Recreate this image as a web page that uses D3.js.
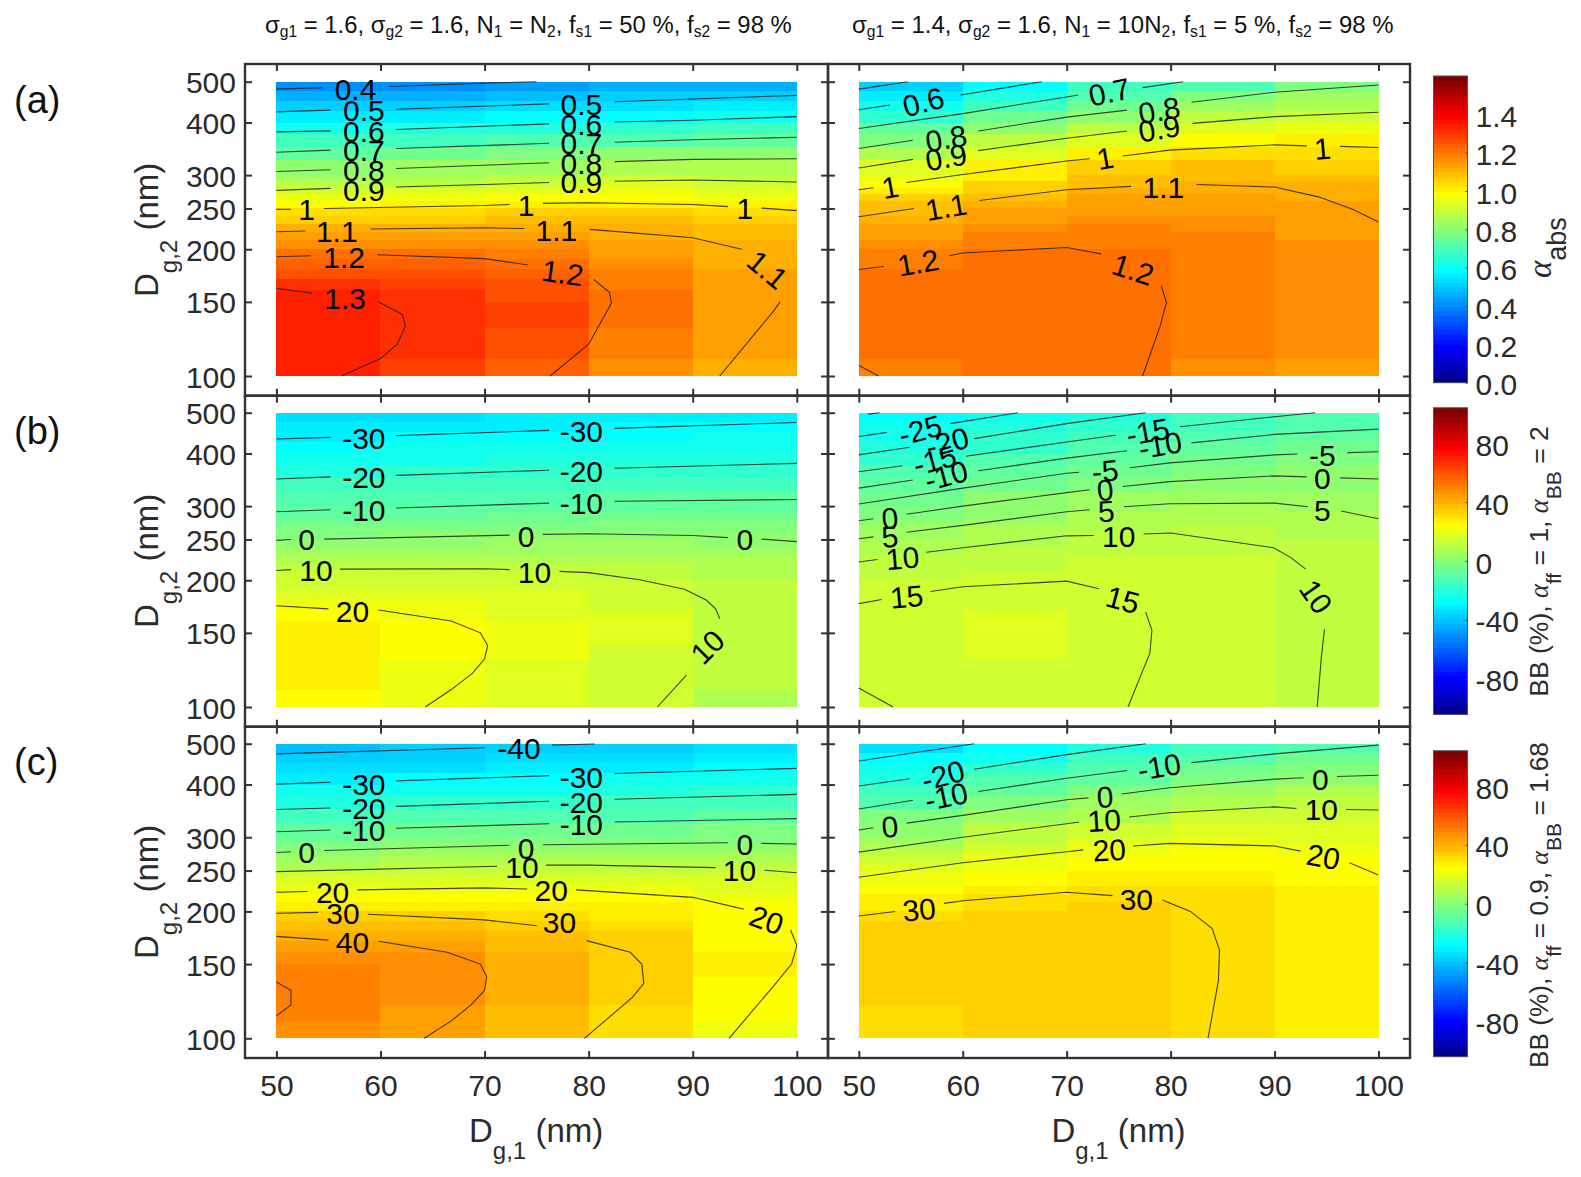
<!DOCTYPE html>
<html><head><meta charset="utf-8">
<style>html,body{margin:0;padding:0;background:#fff}svg{display:block}</style>
<script src="https://cdn.jsdelivr.net/npm/d3@7/dist/d3.min.js"></script>
</head><body><svg id="c" width="1581" height="1177"></svg>
<script>
// ---------- DATA ----------
const xEdges=[50,60,70,80,90,100];
const xTicks=[50,60,70,80,90,100];
const yTicks=[100,150,200,250,300,400,500];
const rowEdges=[100,110,120,130,140,150,160,170,180,190,200,210,220,230,240,250,260,270,280,290,300,325,350,375,400,425,450,475,500];
const panelLetters=["(a)","(b)","(c)"];
const titleLeft=[["σ"],["g1",1],[" = 1.6, σ"],["g2",1],[" = 1.6, N"],["1",1],[" = N"],["2",1],[", f"],["s1",1],[" = 50 %, f"],["s2",1],[" = 98 %"]];
const titleRight=[["σ"],["g1",1],[" = 1.4, σ"],["g2",1],[" = 1.6, N"],["1",1],[" = 10N"],["2",1],[", f"],["s1",1],[" = 5 %, f"],["s2",1],[" = 98 %"]];

// Heat values: one array per column (D_g,1 = 50..90), one value per row of rowEdges
const heatA1=[
[1.33,1.33,1.33,1.335,1.335,1.33,1.305,1.27,1.24,1.21,1.17,1.135,1.10,1.065,1.03,.995,.96,.92,.885,.85,.82,.745,.675,.615,.555,.50,.455,.41],
[1.29,1.30,1.315,1.32,1.32,1.315,1.295,1.26,1.235,1.21,1.17,1.14,1.105,1.07,1.035,1.0,.965,.93,.895,.86,.83,.755,.695,.63,.57,.51,.465,.42],
[1.235,1.25,1.275,1.28,1.28,1.275,1.25,1.235,1.22,1.20,1.165,1.14,1.11,1.08,1.05,1.015,.98,.95,.915,.88,.85,.775,.71,.645,.59,.53,.48,.44],
[1.17,1.18,1.20,1.205,1.205,1.205,1.20,1.195,1.17,1.15,1.13,1.115,1.10,1.075,1.05,1.025,.995,.96,.93,.9,.865,.80,.725,.665,.60,.54,.50,.45],
[1.11,1.125,1.13,1.14,1.14,1.135,1.135,1.13,1.12,1.11,1.105,1.095,1.085,1.06,1.03,1.0,.97,.945,.92,.895,.87,.80,.735,.675,.61,.55,.51,.46]];
const heatA2=[
[1.195,1.205,1.21,1.21,1.21,1.21,1.21,1.205,1.2,1.175,1.155,1.14,1.125,1.11,1.095,1.075,1.05,1.02,.99,.965,.94,.87,.79,.73,.67,.61,.56,.51],
[1.215,1.215,1.22,1.22,1.22,1.22,1.22,1.215,1.21,1.205,1.195,1.18,1.16,1.15,1.14,1.12,1.095,1.07,1.05,1.025,1.00,.94,.875,.81,.75,.69,.64,.585],
[1.21,1.215,1.22,1.22,1.22,1.22,1.22,1.215,1.21,1.205,1.20,1.19,1.18,1.165,1.15,1.14,1.125,1.11,1.095,1.075,1.05,1.00,.935,.875,.825,.77,.72,.68],
[1.165,1.175,1.185,1.19,1.195,1.195,1.195,1.195,1.19,1.185,1.18,1.175,1.165,1.155,1.14,1.135,1.125,1.115,1.105,1.095,1.08,1.04,.99,.94,.885,.83,.78,.72],
[1.145,1.155,1.16,1.165,1.17,1.17,1.17,1.17,1.165,1.16,1.155,1.15,1.145,1.14,1.13,1.125,1.12,1.11,1.10,1.085,1.07,1.035,1.0,.965,.92,.87,.835,.795]];
const heatB1=[
[23,26,27,27,27,26,24,21,18.5,16,13,10.5,7.5,5,2,-.5,-3,-5.5,-7.5,-9.5,-11.5,-16,-20,-24,-27,-29.5,-32,-34],
[21,21.5,22,23,23.5,23.5,22,20,18,15.5,13,10.5,8,5.5,2.5,0,-2.5,-5,-7,-9,-11,-15.5,-19.5,-23,-26,-28.5,-31,-33],
[17.5,18,19,20,20.3,20,18.5,17.5,16.5,15,13,11,8.5,6,3.5,1,-1.5,-4,-6,-8,-10.5,-15,-19,-22,-25,-27.5,-30,-32],
[14,15,15.5,16,16.5,16.5,16.5,16,15,13.5,12,10,8,6,4,1.5,-1,-3,-5,-7,-9.5,-14,-18,-21.5,-24,-27,-29,-31],
[9,10,11,11.5,12,12,12,11.5,11,10,9.5,8.5,7,5,2.5,.5,-1,-3,-5,-7,-9,-13.5,-17.5,-21,-24,-26,-28.5,-30]];
const heatB2=[
[14.5,15,15.5,15.8,15.9,15.9,15.5,15.2,14.5,13.5,12.7,11.5,10,8.5,7,5.2,3.5,1.5,-.5,-2.5,-4.5,-9,-13,-17,-20.5,-23,-26,-28.5],
[15.8,15.9,16,16.5,16.8,16.8,16.5,16,15.8,15.2,14,12.7,11.5,10.5,9.5,8,6.5,4.8,3,1.5,0,-4.5,-8.5,-12.5,-16.5,-19,-22,-25],
[15.6,15.8,15.9,16,16.1,16.1,16,16,15.8,15.4,14.9,14,13,12,11.2,10.2,9.3,8.2,7,5.4,3.8,-.4,-3.5,-7.5,-11.5,-15,-17.5,-20.5],
[13.8,14,14.3,14.5,14.6,14.6,14.6,14.6,14.5,14.2,14,13.7,13.3,12.6,11.8,10.9,10,8.9,7.7,6.6,5.5,2.5,-1,-4.3,-8,-10.5,-13.5,-16],
[11,11.2,11.5,11.7,11.8,12,12,12,12,11.8,11.7,11.4,11,10.5,10,9.2,8.3,7.4,6.5,5.8,5.2,2.8,.4,-2.7,-5.3,-8,-10.7,-13]];
const heatC1=[
[47,49,51,51,49.5,47,44,41,38,33,29,25,21,17,13,9.5,6,2.3,-1.5,-5,-8,-14,-20,-25,-30,-33,-36.5,-40],
[43,44,45.5,46.5,47,45.5,43,40,37,33.5,29,25,21.5,17.7,14,10.7,7.5,4,.5,-2.8,-6,-12.5,-19,-24,-29,-33,-36,-39],
[36,37,40,41,41,40,37.5,36,33.5,31.5,29,25.5,22,18,14.5,11,8,5,2,-1.5,-5,-11.5,-17,-23,-27.5,-31,-35,-38],
[30,31,32.5,33.5,34,34,33.5,33,31,28.5,26,23.5,21,18.3,15.5,12.2,9,5.7,2.5,-.5,-3.5,-10,-16,-21.5,-26,-30,-33,-37],
[20,23,24,25.5,26,26,25.5,25,24.5,24,23,21.3,19,16.3,13.5,10.7,8,5,2,-.5,-3,-8,-14,-19,-24,-28,-32,-35]];
const heatC2=[
[31.5,32,33,33.5,33.8,33.8,33.5,33,32.5,31,29,27,25,22.5,20,18,15.5,12.2,9,6,3,-3,-10,-15.5,-20.5,-24,-29,-33],
[33,33.5,34,34,34.5,34.5,34.5,34,33.5,33,32,29.5,27,25,23,21.8,20.3,18,15.5,12.7,10,4,-1.5,-7,-11.5,-17.5,-23,-27],
[33,33.5,34,34,34.3,34.3,34,34,33.5,33,32.5,31.5,30.5,28.8,27,25,23,21.2,19.5,17.2,15,9.5,4,-1.5,-7,-12,-16,-20.5],
[31,31.5,31.8,32,32,32,32,32,32,31.5,31,30.2,29.3,28.2,27,25.7,24.5,23.2,22,20,18,13,8.5,3.5,-1.5,-6,-10,-14.5],
[26.5,27,27.5,28,28,28,28,28,28,28,27.5,27,26.5,25.5,24.5,23.7,23,22,21,19.2,17.5,14,10.5,6.5,2,-2,-6,-10]];

// Contour lines: each segment is [Dg1 values, Dg2 values]; gaps are where the labels sit
const linesA1=[
[[50,54.4],[480,484]],[[60.8,70,75],[487,496,500]],
[[50,55.2],[424,428]],[[61.5,76.2],[430,443]],[[82.5,90,100],[448,455,464]],
[[50,55.2],[380,382]],[[61.5,76.2],[385,397]],[[82.5,90,100],[401,405,413]],
[[50,55.2],[340,344]],[[61.5,76.2],[347,357]],[[82.5,90,100],[359,364,369]],
[[50,55.2],[306,309]],[[61.5,76.2],[311,321]],[[82.5,90,100],[323,327,328]],
[[50,55.2],[276,279]],[[61.5,76.2],[281,288]],[[82.5,90,100],[290,292,289]],
[[50,51.4],[248.7,249]],[[54.6,70,72.4],[250,254,255.5]],[[75.6,80,90,93.4],[257,258,255.5,252.5]],[[96.6,100],[250.5,247]],
[[50,52.8],[220,221]],[[59.1,70,73.8],[223.5,225,224]],[[80.1,90,94.7],[223,213,200]],
[[50,53.3],[192,193]],[[59.7,70,74.2],[194,190,183.5]],[[80.5,82,82.2,81.3,80,76.3],[169.5,158,149,136,119,100]],
[[50,53.4],[161.5,157.5]],[[59.8,62.1,62.4,61.6,60,56.3],[150,140,131.5,119,110,100.2]],
[[98.4,97.7,92.6],[150,142,100]]];
const labelsA1=[
["0.4",57.6,480,0],["0.5",58.4,428,0],["0.6",58.4,382,0],["0.7",58.4,344,0],["0.8",58.4,309,0],["0.9",58.4,277,0],
["0.5",79.3,442,0],["0.6",79.3,397,0],["0.7",79.3,357,0],["0.8",79.3,321,0],["0.9",79.3,288,0],
["1",52.9,249,0],["1",74,254,0],["1",95,250,0],["1.1",55.8,221,0],["1.1",76.9,222,0],
["1.2",56.5,192,0],["1.2",77.5,176,8],["1.3",56.6,153,0],["1.1",97.2,179,40]];
const linesA2=[
[[50,54.7],[480,500]],
[[50,53],[429,440]],[[59.8,67.6],[465,500]],
[[50,60,70,71.1],[387,420,460,465]],[[77.3,81.2],[484,500]],
[[50,55.2],[347,363]],[[61.5,70,75.8],[382,412,428]],[[82,90,100],[447,472,491]],
[[50,55.2],[312,327]],[[61.5,70,75.8],[343,367,382]],[[82.1,90,100],[398,413,423]],
[[50,51.4],[277,280]],[[54.6,60,70,72.2],[288,301,324,328]],[[75.4,79.9,90,93.1],[333,344,354,352]],[[96.3,100],[351,349]],
[[50,55.3],[239,250]],[[61.6,70,76.2],[261,277,282]],[[82.5,90,94.3,97.5,100],[285,281,266,249,232]],
[[50,52.4],[179,182]],[[58.7,60,70,73.3],[193,196,202,195]],[[79.1,79.6,79,77.3],[164,149.5,131.5,100]],
[[50,51.9],[106,100]]];
const labelsA2=[
["0.6",56.2,448,-15],["0.7",74.1,473,-12],["0.8",58.4,367,-10],["0.9",58.4,331,-10],["0.8",78.9,428,-10],["0.9",78.9,387,-10],
["1",53,281,-10],["1",73.7,329,-10],["1",94.6,347,-5],["1.1",58.4,252,-10],["1.1",79.3,281,0],["1.2",55.7,186,-10],["1.2",76.4,179,18]];
const linesB1=[
[[50,55.2],[433,437]],[[61.5,76.2],[441,454]],[[82.5,100],[459,474]],
[[50,55.2],[348,352]],[[61.5,76.2],[355,365]],[[82.5,100],[369,379]],
[[50,55.2],[291,294]],[[61.5,76.2],[297,305]],[[82.5,100],[308,311]],
[[50,51.4],[248.7,250]],[[54.6,72.4],[250.5,256]],[[75.6,80,90,93.4],[257,258,255.5,252.5]],[[96.6,100],[250.5,247]],
[[50,51.4],[211,212]],[[56.1,70,72.4],[212.5,213,212]],[[77.2,80,84.9,89.2,91.3,92.2,92.6],[210,208.5,200.5,190.5,179.5,171,162]],
[[89.4,86.6],[119,100]],
[[50,55],[174,171]],[[59.8,66.8,69.6,70.3,70,68.8,66.8,64.3],[170,160,150,140,130,120,110,100]]];
const labelsB1=[
["-30",58.4,434,0],["-30",79.3,453,0],["-20",58.4,352,0],["-20",79.3,363,0],["-10",58.4,294,0],["-10",79.3,304,0],
["0",52.9,250,0],["0",74,254,0],["0",95,250,0],["10",53.8,211,0],["10",74.8,209,0],["20",57.3,169,0],["10",91.4,139,-45]];
const linesB2=[
[[50.9,52],[496,500]],
[[50,52.7],[439,449]],[[58.8,65.3],[471,500]],
[[50,54.9],[397,414]],[[61.1,70,77.6],[434,471,500]],
[[50,54.2],[362,374]],[[60.3,70,74.7],[394,426,442]],[[80.9,90,93.9],[463,489,500]],
[[50,55.2],[331,346]],[[61.5,70,75.8],[364,390,406]],[[82,90,100],[424,444,457]],
[[50,60,70,71.2],[303.5,331,359,361]],[[76.1,79.9,90,92.2],[370,380,397,399]],[[97,100],[402,404]],
[[50,51.4],[277,280]],[[54.6,60,70,72.2],[287,300,323,328]],[[75.4,79.9,90,93.1],[334,343,354,352]],[[96.3,100],[350,348]],
[[50,51.4],[251,253.5]],[[54.6,60,70,72.2],[260,270,291,294]],[[75.5,79.9,90,93.2],[299,304,305,299]],[[96.4,100],[292,280]],
[[50,51.8],[221,224]],[[56.5,60,70,72.6],[233,239,255,255.5]],[[77.4,80,89.9,91.5,93],[257.5,259,239,227,212.5]],
[[94.8,94.5,94.1],[153,131,100]],
[[50,52.2],[176,180]],[[56.9,60,70,73.1],[188,193,199,191]],[[77.6,78.2,78,77.2,75.9],[168,152,134,120,100]],
[[50,53.3],[111,100]]];
const labelsB2=[
["-25",55.9,455,-15],["-20",58.5,426,-15],["-15",57.3,386,-15],["-10",58.4,355,-15],
["0",53,281,-5],["5",53,254,-5],["10",54.2,226,-5],["15",54.6,183,-5],
["-15",77.8,451,-10],["-10",79,419,-10],["-5",73.7,364,-5],["0",73.7,328,-5],["5",73.8,292,-3],["10",75,255,0],["15",75.4,180,15],
["-5",94.6,397,0],["0",94.6,349,0],["5",94.6,294,0],["10",94,183,55]];
const linesC1=[
[[50,70],[473,489]],[[76.5,80.6],[496,499]],
[[50,55.2],[401,405]],[[61.5,76.2],[408,420]],[[82.5,100],[425,437]],
[[50,55.2],[349,352]],[[61.5,76.2],[355,365]],[[82.5,100],[369,379]],
[[50,55.2],[309,312]],[[61.5,76.2],[315,323]],[[82.5,100],[326,332]],
[[50,51.4],[276,277]],[[54.6,72.4],[279,287]],[[75.6,93.4],[288,291]],[[96.6,100],[290,289]],
[[50,71.2],[248.6,256]],[[75.9,80,92.2],[257.5,257.5,254]],[[96.9,100],[250.5,247]],
[[50,53],[222,223]],[[57.8,70,74.1],[225,227.5,226]],[[78.8,90,94.9],[225,216,202.5]],
[[50,54],[198,199]],[[58.8,70,75],[197,191,185]],[[79.8,84,85.1,85.3,84.2,79.6],[170.5,160,150,135,125,100]],
[[50,55],[174.5,171]],[[59.8,66.4,69.6,70.2,70,68.7,66.8,64.2],[170,160,150,140,130,120,110,100]],
[[50,51.4,51.4,50],[136,130,120,113]],
[[99.4,100,99.5,97.7,93.5],[181,166,150,132.5,100]]];
const labelsC1=[
["-40",73.3,487,0],["-30",58.4,401,0],["-30",79.3,417,0],["-20",58.4,351,0],["-20",79.3,364,0],["-10",58.4,311,0],["-10",79.3,322,0],
["0",52.9,276.5,0],["0",74,283,0],["0",95,289,0],["10",73.6,254,0],["10",94.5,250,0],
["20",55.4,222.5,0],["20",76.4,224,0],["30",56.4,198,0],["30",77.2,189,0],["40",57.3,169,0],["20",97.1,191,20]];
const linesC2=[
[[50,61.1],[455,500]],
[[50,54.9],[397,413]],[[61.1,70,77.6],[435,471,500]],
[[50,55.2],[350,367]],[[61.5,70,75.8],[385,414,432]],[[82,90,100],[451,473,496]],
[[50,51.4],[312,316]],[[54.6,60,70,72.1],[324,338,368,372]],[[75.3,79.9,90,92.8],[380,393,412,415]],[[96,100],[418,421]],
[[50,60,70,71.2],[276.5,300,323,326]],[[76,79.9,90,92.1],[335,343,354,351]],[[96.9,100],[349,348]],
[[50,60,70,71.6],[241,261,277,280]],[[76.4,79.9,90,92.5],[286,290,286,278]],[[97.2,100],[261,244]],
[[50,53.5],[195,200]],[[58.2,60,70,74.4],[209,212,222,218]],[[79.2,81.9,84,84.7,84.6,83.6],[213,200,182,162,137,100]]];
const labelsC2=[
["-20",58.1,421,-15],["-10",58.4,375,-12],["0",53,318,-5],["-10",78.9,441,-10],
["0",73.7,374,-3],["10",73.6,329,-3],["20",74.1,280,-3],["30",76.7,214,0],["30",55.8,202,-5],
["0",94.4,411,0],["10",94.5,349,0],["20",94.7,270,10]];

// Colour bars
const barA={lo:0,hi:1.6,ticks:[0,.2,.4,.6,.8,1,1.2,1.4]};
const barB={lo:-104,hi:104,ticks:[-80,-40,0,40,80]};

// ---------- DRAW ----------
const jet=t=>{const c=v=>Math.max(0,Math.min(1,v));
  return d3.rgb(255*c(1.5-Math.abs(4*t-3)),255*c(1.5-Math.abs(4*t-2)),255*c(1.5-Math.abs(4*t-1))).formatHex();};
const jet64=d3.range(64).map(i=>jet((i+1)/64));
const FONT='"Liberation Sans",Arial,sans-serif', INK='#2b2b2b', FRAME='#333';
const svg=d3.select('#c').attr('font-family',FONT);

const colX=[{frame:[245,828],xr:[276.4,796.8]},{frame:[828,1410],xr:[858.8,1378.5]}];
const rowY=[{frame:[64,395.7],yr:[81.7,376]},{frame:[395.7,726.7],yr:[412.7,707]},{frame:[726.7,1058],yr:[743.7,1038.3]}];

const panels=[
 [heatA1,linesA1,labelsA1,barA,0,0],[heatA2,linesA2,labelsA2,barA,0,1],
 [heatB1,linesB1,labelsB1,barB,1,0],[heatB2,linesB2,labelsB2,barB,1,1],
 [heatC1,linesC1,labelsC1,barB,2,0],[heatC2,linesC2,labelsC2,barB,2,1]];

panels.forEach(([heat,lines,labels,bar,r,c])=>{
  const {frame:fx,xr}=colX[c],{frame:fy,yr}=rowY[r];
  const x=d3.scaleLinear().domain([50,100]).range(xr);
  const y=d3.scaleLog().domain([500,100]).range(yr);
  const col=d3.scaleQuantize().domain([bar.lo,bar.hi]).range(jet64);
  const g=svg.append('g');
  heat.forEach((colVals,i)=>{
    g.append('g').attr('shape-rendering','crispEdges').selectAll('rect').data(colVals).join('rect')
     .attr('x',x(xEdges[i])).attr('width',x(xEdges[i+1])-x(xEdges[i]))
     .attr('y',(d,j)=>y(rowEdges[j+1])).attr('height',(d,j)=>y(rowEdges[j])-y(rowEdges[j+1]))
     .attr('fill',d=>col(d));
  });
  const line=d3.line().x(d=>x(d[0])).y(d=>y(d[1]));
  g.append('g').selectAll('path').data(lines).join('path')
   .attr('d',s=>line(d3.zip(s[0],s[1]))).attr('fill','none').attr('stroke','#222').attr('stroke-width',1.1).attr('stroke-opacity',.85);
  g.append('g').selectAll('text').data(labels).join('text')
   .attr('transform',d=>`translate(${x(d[1])},${y(d[2])}) rotate(${d[3]})`)
   .attr('text-anchor','middle').attr('dy','.36em').attr('font-size',30).attr('fill','#000').text(d=>d[0]);
  // frame + ticks
  const tickStyle=a=>{a.select('.domain').remove();a.selectAll('.tick line').attr('stroke',FRAME).attr('stroke-width',2);
     a.selectAll('text').attr('font-family',FONT).attr('font-size',30).attr('fill',INK);};
  const fmt=d=>String(d), none=()=>'';
  const yTop=fy[0], yBot=fy[1];
  svg.append('g').attr('transform',`translate(${fx[0]},0)`).call(d3.axisLeft(y).tickValues(yTicks).tickSize(-7).tickPadding(9).tickFormat(c===0?fmt:none)).call(tickStyle).selectAll('text').attr('dy','.37em');
  svg.append('g').attr('transform',`translate(${fx[1]},0)`).call(d3.axisRight(y).tickValues(yTicks).tickSize(-7).tickFormat(none)).call(tickStyle);
  svg.append('g').attr('transform',`translate(0,${yTop})`).call(d3.axisTop(x).tickValues(xTicks).tickSize(-7).tickFormat(none)).call(tickStyle);
  svg.append('g').attr('transform',`translate(0,${yBot})`).call(d3.axisBottom(x).tickValues(xTicks).tickSize(-7).tickPadding(17).tickFormat(r===2?fmt:none)).call(tickStyle);
  svg.append('rect').attr('x',fx[0]).attr('y',fy[0]).attr('width',fx[1]-fx[0]).attr('height',fy[1]-fy[0])
     .attr('fill','none').attr('stroke',FRAME).attr('stroke-width',2.4);
});

// sub/superscript helper
function rich(sel,parts,size,subSize,subDy){
  parts.forEach(p=>{
    const t=sel.append('tspan').text(p[0]);
    if(p[2]) t.attr('font-family','"Liberation Serif",serif').attr('font-style','italic');
    t.attr('font-size',p[1]?subSize:size);
    if(p[1]) t.attr('dy',subDy); 
  });
  let prev=false;
  sel.selectAll('tspan').each(function(d,i){
    const sub=!!parts[i][1];
    if(!sub&&prev) d3.select(this).attr('dy',-subDy);
    prev=sub;
  });
}
// column titles, squeezed to the width of the original narrow face
function fitted(parts,x0,x1,base){
  const t=svg.append('text').attr('x',0).attr('y',0).attr('fill','#111');
  rich(t,parts,24.5,16,4.5);
  const w=t.node().getComputedTextLength();
  t.attr('transform',`translate(${x0},${base}) scale(${(x1-x0)/w},1)`);
}
fitted(titleLeft,265,792,32.5);
fitted(titleRight,852,1394,32.5);

// panel letters
panelLetters.forEach((s,i)=>svg.append('text').attr('x',14).attr('y',112.7+i*331).attr('font-size',38).attr('fill','#111').text(s));

// axis titles
rowY.forEach(({frame,yr})=>{
  const t=svg.append('text').attr('transform',`translate(158,${297+yr[0]-81.7}) rotate(-90)`).attr('fill',INK);
  rich(t,[["D"],["g,2",1],[" (nm)"]],33,24,19);
});
colX.forEach(({xr})=>{
  const t=svg.append('text').attr('transform',`translate(${469+xr[0]-276.4},1141.7)`).attr('fill',INK);
  rich(t,[["D"],["g,1",1],[" (nm)"]],33,24,17);
});

// colour bars
const barDefs=[
 {bar:barA,y:[76,382.7],fmt:d3.format('.1f'),title:[["α",0,1],["abs",1]],tx:1551,ty:278,size:33,sub:27,dy:15},
 {bar:barB,y:[407.7,714.3],fmt:String,title:[["BB (%), "],["α",0,1],["ff",1],[" = 1, "],["α",0,1],["BB",1],[" = 2"]],tx:1548,ty:696.7,size:26.5,sub:21,dy:13},
 {bar:barB,y:[750.7,1056.7],fmt:String,title:[["BB (%), "],["α",0,1],["ff",1],[" = 0.9, "],["α",0,1],["BB",1],[" = 1.68"]],tx:1548,ty:1068,size:26.2,sub:21,dy:13}];
barDefs.forEach(b=>{
  const s=d3.scaleLinear().domain([b.bar.lo,b.bar.hi]).range([b.y[1],b.y[0]]);
  const step=(b.bar.hi-b.bar.lo)/64;
  svg.append('g').attr('shape-rendering','crispEdges').selectAll('rect').data(jet64).join('rect')
    .attr('x',1433.5).attr('width',34)
    .attr('y',(d,i)=>s(b.bar.lo+(i+1)*step)).attr('height',(d,i)=>s(b.bar.lo+i*step)-s(b.bar.lo+(i+1)*step)+.5)
    .attr('fill',d=>d);
  svg.append('rect').attr('x',1433.5).attr('y',b.y[0]).attr('width',34).attr('height',b.y[1]-b.y[0]).attr('fill','none').attr('stroke','#555').attr('stroke-width',1);
  const a=svg.append('g').attr('transform','translate(1467.5,0)')
    .call(d3.axisRight(s).tickValues(b.bar.ticks).tickSize(-2).tickPadding(8).tickFormat(b.fmt));
  a.select('.domain').remove();
  a.selectAll('.tick line').attr('stroke','#444');
  a.selectAll('text').attr('font-family',FONT).attr('font-size',30).attr('fill',INK).attr('dy','.4em');
  const t=svg.append('text').attr('transform',`translate(${b.tx},${b.ty}) rotate(-90)`).attr('fill',INK);
  rich(t,b.title,b.size,b.sub,b.dy);
});
</script></body></html>
